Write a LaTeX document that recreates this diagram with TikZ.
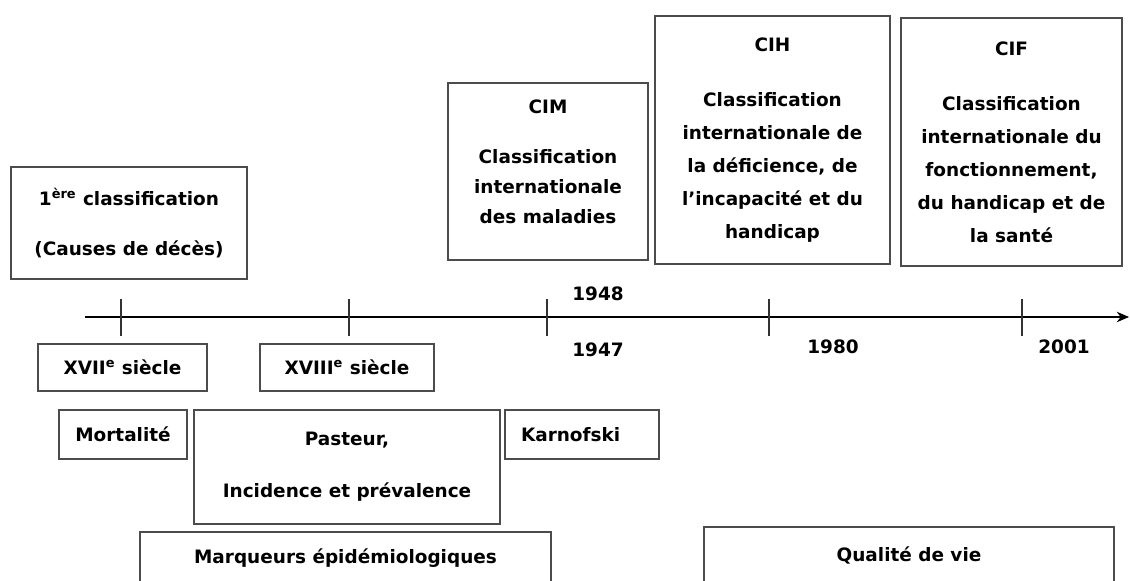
\documentclass[tikz,border=0pt]{standalone}
\usepackage{fontspec}
\setmainfont{DejaVu Sans}
\usetikzlibrary{arrows.meta}
\tikzset{
  evbox/.style={rectangle,draw=black!70,line width=0.8pt,align=center,inner sep=0pt,
    font=\bfseries\fontsize{10.5}{17}\selectfont},
  tallbox/.style={evbox,font=\bfseries\fontsize{10.5}{18.8}\selectfont},
  boxsize/.style 2 args={minimum width=#1*0.2mm,minimum height=#2*0.2mm},
  yearlbl/.style={font=\bfseries\fontsize{10.5}{12}\selectfont},
  timeline/.style={line width=0.8pt,-{Stealth[length=7pt,width=6pt]}},
  tick/.style={line width=0.6pt,black!80}
}
\begin{document}
\begin{tikzpicture}[x=0.2mm,y=-0.2mm]
  \clip (0,0) rectangle (1130,581);
  \fill[white] (0,0) rectangle (1130,581);

  % classifications au-dessus de l'axe
  \node[evbox,boxsize={236}{112}] (first) at (129,223)
    {1\textsuperscript{ère} classification\\[11.5pt](Causes de décès)};
  \node[evbox,boxsize={200}{177}] (cim) at (548,171.5)
    {CIM\\[11.5pt]Classification\\internationale\\des maladies\\[-6pt]\mbox{}};
  \node[tallbox,boxsize={235}{248}] (cih) at (772.5,140)
    {CIH\\[12.5pt]Classification\\internationale de\\la déficience, de\\l’incapacité et du\\handicap};
  \node[tallbox,boxsize={221}{248}] (cif) at (1011.5,142)
    {CIF\\[12.5pt]Classification\\internationale du\\fonctionnement,\\du handicap et de\\la santé};

  % axe du temps
  \coordinate (axstart) at (85,317);
  \coordinate (axend) at (1129,317);
  \draw[timeline] (axstart) -- (axend);
  \foreach \x in {121,349,547,769,1022}
    \draw[tick] (\x,299) -- (\x,336);

  \node[yearlbl] (y1948) at (598,294) {1948};
  \node[yearlbl] (y1947) at (598,350) {1947};
  \node[yearlbl] (y1980) at (833,347) {1980};
  \node[yearlbl] (y2001) at (1064,347) {2001};

  % periodes et marqueurs sous l'axe
  \node[evbox,boxsize={169}{47}] (s17) at (122.5,367.5)
    {XVII\textsuperscript{e} siècle};
  \node[evbox,boxsize={174}{47}] (s18) at (347,367.5)
    {XVIII\textsuperscript{e} siècle};
  \node[evbox,boxsize={128}{49}] (mort) at (123,434.5) {Mortalité};
  \node[evbox,boxsize={306}{114}] (past) at (347,467)
    {Pasteur,\\[12.6pt]Incidence et prévalence};
  \node[evbox,boxsize={154}{49},text width=122*0.2mm,align=left] (karn) at (582,434.5) {Karnofski};
  \node[evbox,boxsize={411}{52}] (marq) at (345.5,558)
    {Marqueurs épidémiologiques};
  \node[evbox,boxsize={410}{56}] (qual) at (909,555)
    {Qualité de vie};
\end{tikzpicture}
\end{document}
